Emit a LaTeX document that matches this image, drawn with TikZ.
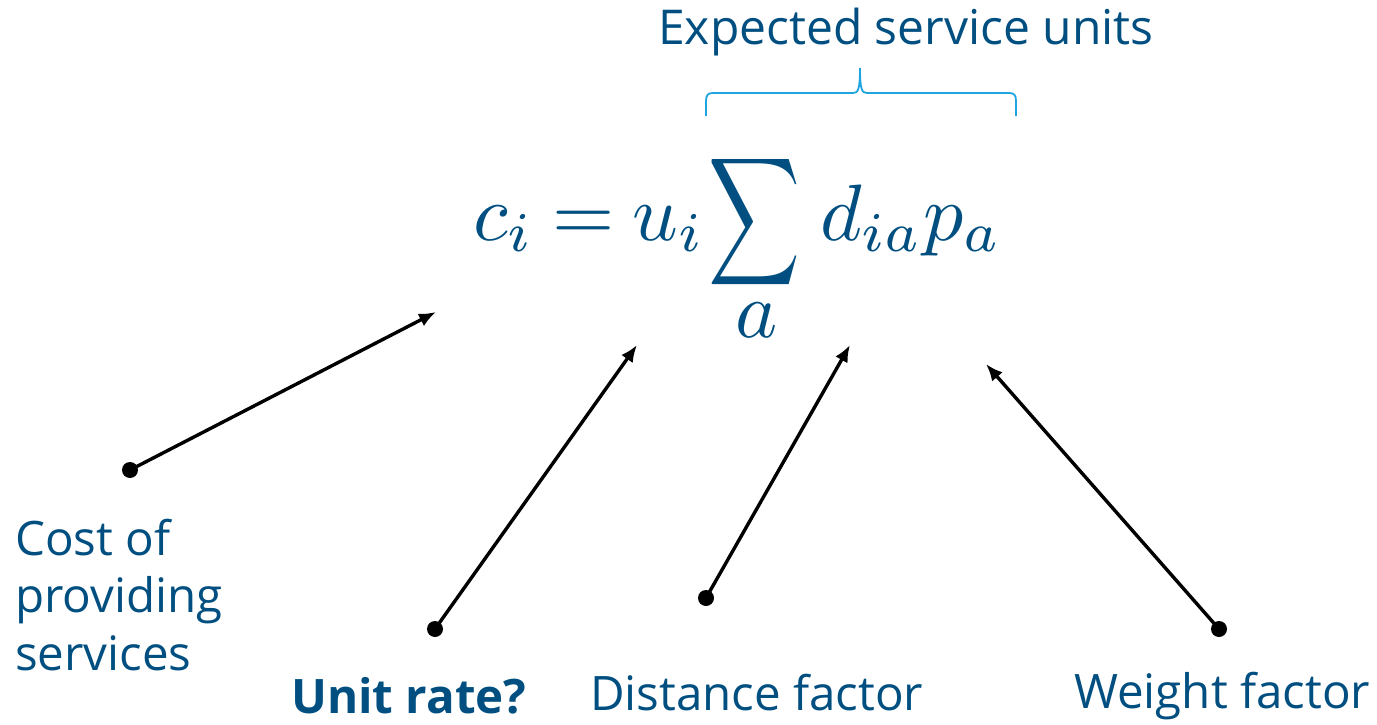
\documentclass[tikz,border=0pt]{standalone}
\usepackage{fontspec}
\setmainfont{Open Sans}
\usetikzlibrary{arrows.meta}
\definecolor{navy}{RGB}{0,79,128}
\definecolor{skyb}{RGB}{30,165,225}
\newcommand{\hugemath}[1]{\scalebox{8}{$#1$}}
\begin{document}
\begin{tikzpicture}[x=1pt,y=-1pt,
  lbl/.style={text=navy, inner sep=0, font=\fontsize{47.5}{57.5}\selectfont},
  mth/.style={text=navy, inner sep=0},
  dot/.style={circle, fill=black, inner sep=0, minimum size=16pt},
  arr/.style={line width=3.4pt, -{Latex[length=17pt,width=14pt]}},
  brace/.style={draw=skyb, line width=1.8pt}]
\useasboundingbox (0,0) rectangle (1377,725);
% title and brace
\node[lbl, font=\fontsize{48}{58}\selectfont, anchor=base west] (title) at (658,45) {Expected service units};
\draw[brace] (706,116) -- (706,101) .. controls (706,95) and (708,93) .. (713,93)
  -- (853,93) .. controls (858,93) and (860,90) .. (860,68)
  .. controls (860,90) and (862,93) .. (867,93) -- (1009,93)
  .. controls (1014,93) and (1016,95) .. (1016,101) -- (1016,116);
% formula
\node[mth, anchor=base west] (lhs) at (473,240) {\hugemath{c_i\:{=}\:u_i}};
\node[mth, anchor=north west] (sum) at (708,150) {\resizebox*{92pt}{143pt}{$\displaystyle\sum$}};
\node[mth, anchor=base] (suba) at (757,337) {\hugemath{a}};
\node[mth, anchor=base west] (rhs) at (820,240) {\hugemath{d_{ia}p_a}};
% labels
\node[lbl, anchor=base west, align=left] (cost) at (15,670) {Cost of\\providing\\services};
\node[lbl, anchor=base west, font=\fontsize{47.5}{57.5}\selectfont\bfseries] (unit) at (291,713) {Unit rate?};
\node[lbl, anchor=base west] (dist) at (590,710) {Distance factor};
\node[lbl, anchor=base west] (wt) at (1074,708) {Weight factor};
% arrows
\node[dot] (d1) at (130,470) {};
\node[dot] (d2) at (435,629) {};
\node[dot] (d3) at (706,598) {};
\node[dot] (d4) at (1219,629) {};
\coordinate (t1) at (436,312);
\coordinate (t2) at (637,345);
\coordinate (t3) at (850,345);
\coordinate (t4) at (986,364);
\draw[arr] (d1.center) -- (t1);
\draw[arr] (d2.center) -- (t2);
\draw[arr] (d3.center) -- (t3);
\draw[arr] (d4.center) -- (t4);
\end{tikzpicture}
\end{document}
